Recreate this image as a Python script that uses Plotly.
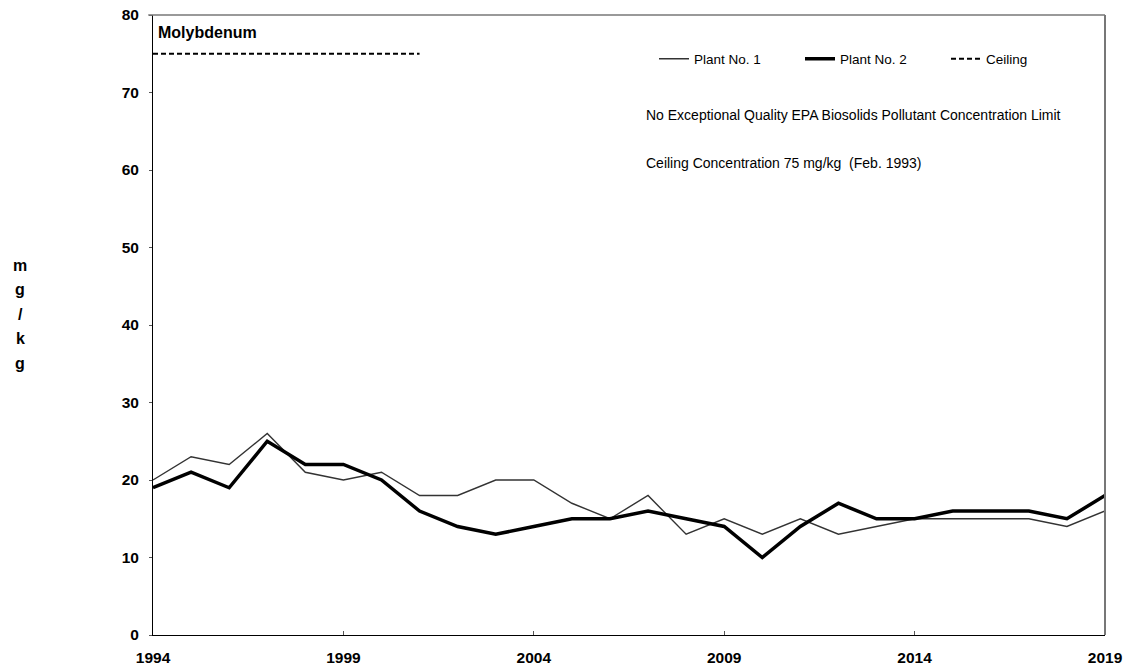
import plotly.graph_objects as go

years = list(range(1994, 2020))
plant1 = [20, 23, 22, 26, 21, 20, 21, 18, 18, 20, 20, 17, 15, 18, 13, 15, 13, 15, 13, 14, 15, 15, 15, 15, 14, 16]
plant2 = [19, 21, 19, 25, 22, 22, 20, 16, 14, 13, 14, 15, 15, 16, 15, 14, 10, 14, 17, 15, 15, 16, 16, 16, 15, 18]
ceiling_years = [1994, 2001]
ceiling_vals = [75, 75]
x_ticks = [1994, 1999, 2004, 2009, 2014, 2019]
y_ticks = [0, 10, 20, 30, 40, 50, 60, 70, 80]
ylabel_chars = ["m", "g", "/", "k", "g"]

W, H = 1131, 669
L, R, T, B = 153, 26, 15, 34
pw, ph = W - L - R, H - T - B

def px_x(px):
    return (px - L) / pw

def px_y(py):
    return (H - B - py) / ph

FONT = "Arial, Liberation Sans, sans-serif"

fig = go.Figure()
fig.add_trace(go.Scatter(x=years, y=plant1, mode="lines", name="Plant No. 1",
                         line=dict(color="#333333", width=1.4)))
fig.add_trace(go.Scatter(x=years, y=plant2, mode="lines", name="Plant No. 2",
                         line=dict(color="#000000", width=3.5)))
fig.add_trace(go.Scatter(x=ceiling_years, y=ceiling_vals, mode="lines", name="Ceiling",
                         line=dict(color="#000000", width=2, dash="5px,3px")))

fig.update_layout(
    width=W, height=H, autosize=False,
    margin=dict(l=L, r=R, t=T, b=B, pad=0, autoexpand=False),
    paper_bgcolor="white", plot_bgcolor="white",
    font=dict(family=FONT, color="black"),
    showlegend=True,
    legend=dict(orientation="h", x=px_x(654), y=px_y(59), xanchor="left", yanchor="middle",
                font=dict(size=13.5, family=FONT),
                bgcolor="rgba(0,0,0,0)", entrywidth=101, entrywidthmode="pixels",
                tracegroupgap=0),
    xaxis=dict(range=[1994, 2019], tickvals=x_ticks, ticks="inside", ticklen=4,
               tickcolor="#555555", showgrid=False, zeroline=False, showline=True,
               linecolor="black", linewidth=1, ticklabelstandoff=8, automargin=False,
               tickfont=dict(size=15.5, family=FONT, weight="bold")),
    yaxis=dict(range=[0, 80], tickvals=y_ticks, ticks="outside", ticklen=3,
               tickcolor="#555555", showgrid=False, zeroline=False, showline=True,
               linecolor="black", linewidth=1, ticklabelstandoff=7, automargin=False,
               tickfont=dict(size=15.5, family=FONT, weight="bold")),
)

# frame top/right in gray
fig.add_shape(type="line", xref="paper", yref="paper", x0=-0.005, x1=1, y0=1, y1=1,
              line=dict(color="#777777", width=1.5))
fig.add_shape(type="line", xref="paper", yref="paper", x0=1, x1=1, y0=0, y1=1,
              line=dict(color="#777777", width=2))

fig.add_annotation(text="<b>Molybdenum</b>", xref="paper", yref="paper",
                   x=px_x(156), y=px_y(32), xanchor="left", yanchor="middle",
                   showarrow=False, font=dict(size=16))
fig.add_annotation(text="No Exceptional Quality EPA Biosolids Pollutant Concentration Limit",
                   xref="paper", yref="paper", x=px_x(644), y=px_y(115),
                   xanchor="left", yanchor="middle", showarrow=False, font=dict(size=14))
fig.add_annotation(text="Ceiling Concentration 75 mg/kg  (Feb. 1993)",
                   xref="paper", yref="paper", x=px_x(644), y=px_y(163),
                   xanchor="left", yanchor="middle", showarrow=False, font=dict(size=14))

for i, ch in enumerate(ylabel_chars):
    fig.add_annotation(text="<b>" + ch + "</b>", xref="paper", yref="paper",
                       x=px_x(20), y=px_y(265 + i * 24.5), xanchor="center", yanchor="middle",
                       showarrow=False, font=dict(size=16))

css = ("document.documentElement.style.margin='0';document.documentElement.style.padding='0';"
       "document.documentElement.style.overflow='hidden';"
       "document.body.style.margin='0';document.body.style.padding='0';"
       "document.body.style.overflow='hidden';")
fig.write_html("out.html", config={"displayModeBar": False}, post_script=css)
